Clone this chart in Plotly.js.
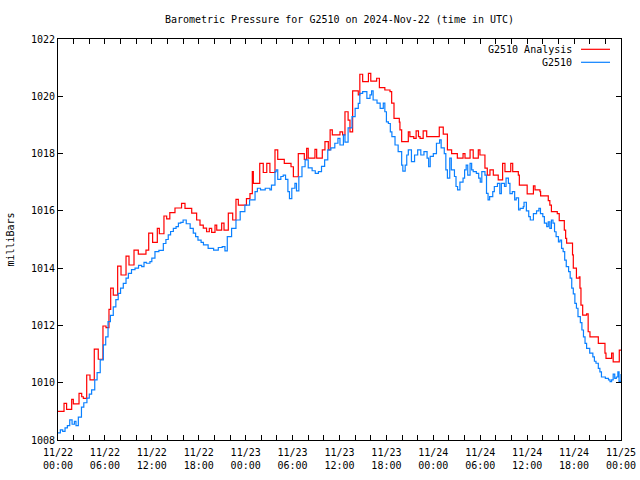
<!DOCTYPE html>
<html>
<head>
<meta charset="utf-8">
<script src="https://cdn.plot.ly/plotly-3.0.1.min.js"></script>
<style>html,body{margin:0;padding:0;background:#fff;}#chart{width:640px;height:480px;}</style>
</head>
<body>
<div id="chart"></div>
<script>
// Hours since 2024-11-22 00:00 UTC
const analysisHours = [0,0.77,1.1,1.75,1.96,2.69,3.03,3.24,3.67,4.09,4.64,5.15,5.75,6.14,6.52,6.74,7.07,7.63,8.06,8.7,9.08,9.72,10.27,11.25,11.6,12.1,12.7,12.96,13.55,13.9,14.3,14.96,15.8,16.24,17.1,17.73,18.16,18.58,19.0,19.35,19.65,20.08,20.3,20.93,21.23,21.78,22.34,22.76,23.06,24.1,24.55,24.85,24.98,25.8,26.25,26.7,27.1,27.75,28.1,28.94,29.8,30.1,30.73,31.5,31.8,32.0,32.86,33.08,33.8,34.14,34.57,34.8,35.08,36.06,36.4,36.7,37.1,37.34,37.68,38.4,38.6,38.96,39.7,40.0,40.75,41.1,41.8,42.46,42.67,42.97,43.65,43.73,43.95,44.8,45.0,45.5,45.8,46.1,46.3,46.7,47.15,48.76,49.27,49.8,50.34,51.07,51.8,52.05,52.7,53.1,53.75,53.96,54.6,54.9,55.24,55.67,56.3,56.86,57.16,57.9,58.15,58.87,59.0,60.0,60.8,61.0,61.64,61.72,62.7,62.9,63.1,63.85,64.1,64.75,64.92,65.05,65.8,65.9,66.3,66.66,66.75,66.88,67.1,67.6,67.8,68.03,69.1,69.95,70.08,70.8,71.0,71.78,72.0];
const analysisValues = [1009.0,1009.28,1009.07,1009.42,1009.26,1009.63,1009.51,1009.45,1010.27,1010.1,1011.17,1010.82,1011.98,1011.92,1012.56,1013.3,1013.06,1014.07,1013.76,1014.42,1014.11,1014.63,1014.49,1014.63,1015.22,1014.9,1015.39,1015.2,1015.82,1015.72,1015.94,1016.1,1016.26,1016.09,1015.92,1015.68,1015.5,1015.4,1015.27,1015.39,1015.25,1015.5,1015.33,1015.57,1015.33,1015.92,1015.68,1016.4,1016.2,1016.43,1016.6,1017.37,1016.96,1017.66,1017.34,1017.66,1017.34,1018.13,1017.8,1017.66,1017.54,1017.19,1018.0,1017.8,1018.18,1017.84,1018.15,1017.84,1018.13,1018.42,1018.13,1018.83,1018.65,1018.76,1018.65,1019.46,1019.17,1018.76,1020.19,1020.05,1020.77,1020.51,1020.8,1020.53,1020.63,1020.3,1020.22,1020.16,1019.76,1019.23,1019.1,1018.83,1018.42,1018.76,1018.59,1018.53,1018.79,1018.59,1018.53,1018.79,1018.59,1018.92,1018.68,1018.13,1018.0,1017.84,1018.0,1017.84,1018.13,1017.84,1018.13,1017.95,1017.49,1017.25,1017.43,1017.25,1017.08,1017.66,1017.37,1017.66,1017.37,1017.25,1016.9,1016.59,1016.87,1016.73,1016.67,1016.52,1016.36,1016.2,1015.97,1015.9,1015.66,1015.33,1015.04,1014.87,1014.46,1014.0,1013.65,1013.7,1013.3,1012.71,1012.36,1012.4,1011.78,1011.6,1011.37,1011.03,1010.85,1011.03,1010.73,1011.14,1011.14];

const stationHours = [0,0.3,0.6,0.9,1.2,1.5,1.8,2.1,2.3,2.6,3.0,3.3,3.7,4.0,4.3,4.7,5.0,5.4,5.8,6.1,6.4,6.7,7.07,7.4,7.7,8.0,8.35,8.7,9.0,9.4,9.85,10.3,10.7,11.0,11.3,11.76,12.0,12.4,12.9,13.47,13.8,14.1,14.4,14.75,15.1,15.4,15.7,16.0,16.4,16.9,17.3,17.6,17.9,18.3,18.6,19.2,19.9,20.5,21.0,21.35,21.65,22.2,22.76,23.3,23.9,24.5,25.2,25.5,25.9,26.5,27.1,27.3,27.75,27.9,28.1,28.5,28.8,29.1,29.4,29.6,29.9,30.3,30.5,30.8,31.2,31.6,32.0,32.5,32.9,33.3,33.7,34.1,34.5,34.9,35.4,35.8,36.06,36.5,36.7,37.1,37.6,38.0,38.4,38.6,38.96,39.5,39.9,40.1,40.3,40.8,41.2,41.6,41.8,42.0,42.25,42.5,42.7,43.1,43.5,43.95,44.1,44.4,44.6,44.8,45.2,45.6,46.0,46.4,46.8,47.2,47.4,47.6,48.0,48.4,48.8,49.0,49.4,49.6,49.8,50.1,50.3,50.7,50.9,51.1,51.4,51.8,52.0,52.2,52.4,52.7,52.9,53.1,53.5,53.8,54.0,54.2,54.6,54.8,55.0,55.2,55.6,55.8,56.2,56.5,56.7,57.1,57.3,57.6,57.8,58.1,58.4,58.6,58.9,59.1,59.5,59.6,59.9,60.2,60.4,60.8,61.2,61.5,61.7,62.0,62.2,62.5,62.7,62.9,63.1,63.3,63.5,63.7,64.0,64.2,64.4,64.6,64.8,65.0,65.3,65.5,65.7,65.9,66.1,66.3,66.5,66.8,67.0,67.2,67.4,67.6,68.0,68.4,68.6,68.8,69.1,69.3,69.5,70.0,70.4,70.6,70.8,71.0,71.2,71.4,71.6,71.75,72.0];
const stationValues = [1008.25,1008.35,1008.3,1008.42,1008.5,1008.7,1008.55,1008.65,1008.5,1008.8,1009.15,1009.3,1009.46,1009.6,1009.75,1010.1,1010.35,1010.8,1011.32,1011.6,1012.13,1012.35,1012.65,1012.9,1013.12,1013.3,1013.47,1013.65,1013.82,1013.95,1014.0,1014.1,1014.05,1014.2,1014.17,1014.23,1014.35,1014.58,1014.62,1014.86,1015.0,1015.16,1015.28,1015.39,1015.45,1015.57,1015.6,1015.68,1015.55,1015.39,1015.22,1015.1,1014.98,1014.9,1014.81,1014.69,1014.63,1014.72,1014.75,1014.6,1015.1,1015.39,1015.68,1015.97,1016.2,1016.38,1016.67,1016.79,1016.73,1016.79,1016.73,1016.9,1017.37,1017.43,1017.1,1017.2,1017.25,1017.1,1016.67,1016.43,1016.79,1016.96,1016.7,1017.19,1017.54,1017.78,1017.5,1017.4,1017.31,1017.37,1017.55,1017.78,1018.13,1018.2,1018.36,1018.53,1018.3,1018.65,1018.4,1018.9,1019.29,1019.58,1019.75,1020.1,1020.16,1019.93,1020.05,1020.19,1019.87,1019.76,1019.58,1019.76,1019.46,1019.11,1019.05,1018.76,1018.59,1018.3,1018.07,1017.6,1017.39,1017.6,1017.95,1018.13,1017.72,1017.95,1018.13,1017.95,1018.07,1017.84,1017.54,1017.9,1018.0,1018.36,1018.48,1018.2,1018.0,1017.43,1017.14,1017.84,1017.43,1017.2,1016.85,1016.73,1017.0,1017.14,1017.43,1017.6,1017.25,1017.66,1017.43,1017.37,1017.31,1017.14,1017.0,1017.37,1017.25,1016.61,1016.38,1016.5,1016.67,1016.85,1016.96,1016.6,1016.96,1016.85,1017.14,1016.96,1016.6,1016.67,1016.38,1016.45,1016.03,1016.09,1016.15,1016.3,1016.0,1015.8,1015.68,1015.9,1016.0,1016.09,1015.9,1015.8,1015.57,1015.45,1015.62,1015.39,1015.68,1015.57,1015.27,1015.1,1014.92,1014.98,1014.69,1014.58,1014.28,1014.05,1013.88,1013.65,1013.3,1013.1,1012.77,1012.6,1012.31,1012.1,1011.84,1011.6,1011.37,1011.2,1011.03,1010.9,1010.75,1010.68,1010.5,1010.38,1010.2,1010.15,1010.1,1010.04,1010.1,1010.3,1010.15,1010.2,1010.38,1010.05,1010.3];

const tickHours = [0,6,12,18,24,30,36,42,48,54,60,66,72];
const tickLabels = ["11/22<br>00:00","11/22<br>06:00","11/22<br>12:00","11/22<br>18:00","11/23<br>00:00","11/23<br>06:00","11/23<br>12:00","11/23<br>18:00","11/24<br>00:00","11/24<br>06:00","11/24<br>12:00","11/24<br>18:00","11/25<br>00:00"];
const seriesNames = ["G2510 Analysis", "G2510"];
const seriesColors = ["#ff0000", "#0a80ff"];

const FONT = {family: "DejaVu Sans Mono, Liberation Mono, monospace", size: 10, color: "#000"};

const traces = [
  {x: analysisHours, y: analysisValues, type: "scatter", mode: "lines", name: seriesNames[0],
   line: {color: seriesColors[0], width: 1.2, shape: "hv"}},
  {x: stationHours, y: stationValues, type: "scatter", mode: "lines", name: seriesNames[1],
   line: {color: seriesColors[1], width: 1.2, shape: "hv"}}
];

const legendY = [0.9743, 0.9419];
const annotations = seriesNames.map((n, i) => ({
  xref: "paper", yref: "paper", x: 0.9165, y: legendY[i], xanchor: "right", yanchor: "middle",
  text: n, showarrow: false, font: FONT
}));
const shapes = seriesNames.map((n, i) => ({
  type: "line", xref: "paper", yref: "paper", x0: 0.929, x1: 0.9805, y0: legendY[i], y1: legendY[i],
  line: {color: seriesColors[i], width: 1.2}
}));

const layout = {
  width: 640, height: 480,
  margin: {l: 58, r: 19, t: 39, b: 40, pad: 0},
  paper_bgcolor: "#fff", plot_bgcolor: "#fff",
  showlegend: false,
  font: FONT,
  title: {text: "Barometric Pressure for G2510 on 2024-Nov-22 (time in UTC)", font: FONT,
          x: 0.5, xref: "paper", y: 0.96, yref: "container", yanchor: "middle"},
  xaxis: {
    range: [0, 72], tickmode: "array", tickvals: tickHours, ticktext: tickLabels,
    ticks: "inside", ticklen: 5, tickwidth: 1, tickcolor: "#000", ticklabelstandoff: 3,
    showline: true, linecolor: "#000", linewidth: 1, mirror: "ticks",
    showgrid: false, zeroline: false, tickfont: FONT,
    minor: {tickmode: "linear", tick0: 0, dtick: 2, ticks: "inside", ticklen: 5, tickcolor: "#000", showgrid: false}
  },
  yaxis: {
    range: [1008, 1022], tickmode: "linear", tick0: 1008, dtick: 2,
    ticks: "inside", ticklen: 5, tickwidth: 1, tickcolor: "#000",
    showline: true, linecolor: "#000", linewidth: 1, mirror: "ticks",
    showgrid: false, zeroline: false, tickfont: FONT,
    title: {text: "milliBars", font: FONT, standoff: 14}
  },
  annotations: annotations,
  shapes: shapes
};

Plotly.newPlot("chart", traces, layout, {staticPlot: true, displayModeBar: false});
</script>
</body>
</html>
